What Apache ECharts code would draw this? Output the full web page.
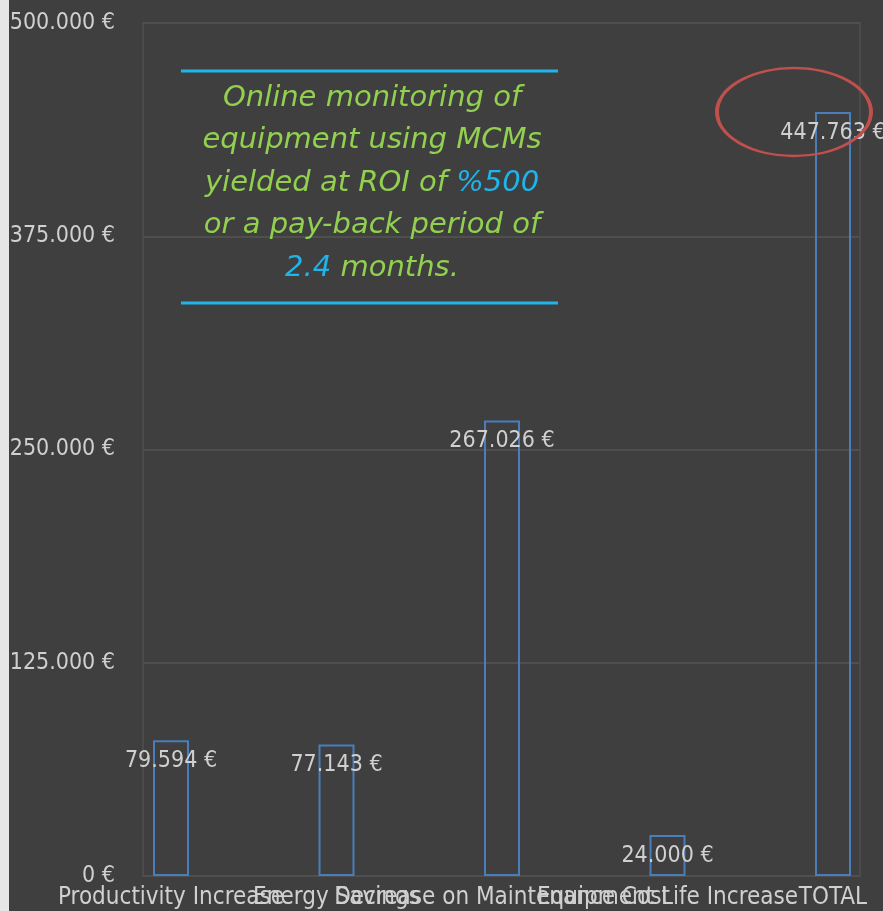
<!DOCTYPE html>
<html>
<head>
<meta charset="utf-8">
<script src="https://cdn.jsdelivr.net/npm/echarts@6/dist/echarts.min.js"></script>
<style>
html,body{margin:0;padding:0;background:#3f3f3f;}
#c{width:883px;height:911px;}
</style>
</head>
<body>
<div id="c"></div>
<script>
const categories = ['Productivity Increase', 'Energy Savings', 'Decrease on Maintenance Cost', 'Equipment Life Increase', 'TOTAL'];
const values = [79594, 77143, 267026, 24000, 447763];
const yTicks = [0, 125000, 250000, 375000, 500000];
const noteLines = [
  [['g', 'Online monitoring of']],
  [['g', 'equipment using MCMs']],
  [['g', 'yielded at ROI of '], ['b', '%500']],
  [['g', 'or a pay-back period of']],
  [['b', '2.4'], ['g', ' months.']]
];

function fmt(v) {
  return String(Math.round(v)).replace(/\B(?=(\d{3})+(?!\d))/g, '.') + ' €';
}

const FONT = '"Liberation Sans Narrow", "DejaVu Sans Condensed", "Noto Sans", sans-serif';
const TXT = '#d0d0d0';

const chart = echarts.init(document.getElementById('c'), null, {renderer: 'canvas'});
const noteText = noteLines.map(l => l.map(s => '{' + s[0] + '|' + s[1] + '}').join('')).join('\n');

chart.setOption({
  backgroundColor: '#3f3f3f',
  animation: false,
  grid: [
    {left: 143, top: 23, right: 23, bottom: 35, show: true, borderColor: '#4b4b4b', borderWidth: 2, backgroundColor: 'transparent'},
    {left: 171, top: 23, right: 50, bottom: 35}
  ],
  xAxis: [
    {gridIndex: 0, type: 'category', data: categories, show: false},
    {gridIndex: 1, type: 'category', data: categories, boundaryGap: false,
      axisLine: {show: false}, axisTick: {show: false}, splitLine: {show: false},
      axisLabel: {interval: 0, color: TXT, fontSize: 24, fontFamily: FONT, margin: 10, hideOverlap: false}}
  ],
  yAxis: [
    {gridIndex: 0, type: 'value', min: 0, max: yTicks[yTicks.length - 1], interval: yTicks[1] - yTicks[0],
      axisLine: {show: false}, axisTick: {show: false},
      splitLine: {lineStyle: {color: '#4f4f4f', width: 2}},
      axisLabel: {color: TXT, fontSize: 23, fontFamily: FONT, margin: 28, formatter: fmt}},
    {gridIndex: 1, type: 'value', min: 0, max: yTicks[yTicks.length - 1], show: false, splitLine: {show: false}}
  ],
  series: [{
    type: 'bar', xAxisIndex: 1, yAxisIndex: 1,
    data: values, barWidth: 36,
    itemStyle: {color: 'rgba(0,0,0,0)', borderColor: '#4a7ebb', borderWidth: 2},
    label: {show: true, position: 'insideTop', distance: 9, color: TXT, fontSize: 23, fontFamily: FONT, formatter: p => fmt(p.value)}
  }],
  graphic: [
    {type: 'rect', left: 0, top: 0, shape: {width: 9, height: 911}, style: {fill: '#e6e6e6'}, z: 100},
    {type: 'line', shape: {x1: 181, y1: 71, x2: 558, y2: 71}, style: {stroke: '#1fb4ea', lineWidth: 3}, z: 100},
    {type: 'line', shape: {x1: 181, y1: 303, x2: 558, y2: 303}, style: {stroke: '#1fb4ea', lineWidth: 3}, z: 100},
    {type: 'text', x: 372, y: 183, z: 100,
      style: {text: noteText, align: 'center', verticalAlign: 'middle',
        rich: {
          g: {fill: '#92d050', fontSize: 29, fontStyle: 'italic', fontFamily: '"DejaVu Sans", sans-serif', lineHeight: 42.5},
          b: {fill: '#1fb4ea', fontSize: 29, fontStyle: 'italic', fontFamily: '"DejaVu Sans", sans-serif', lineHeight: 42.5}
        }}},
    {type: 'circle', x: 794, y: 112, scaleY: 44 / 77, shape: {cx: 0, cy: 0, r: 77},
      style: {fill: 'none', stroke: '#c0504d', lineWidth: 4, strokeNoScale: true}, z: 100}
  ]
});
</script>
</body>
</html>
